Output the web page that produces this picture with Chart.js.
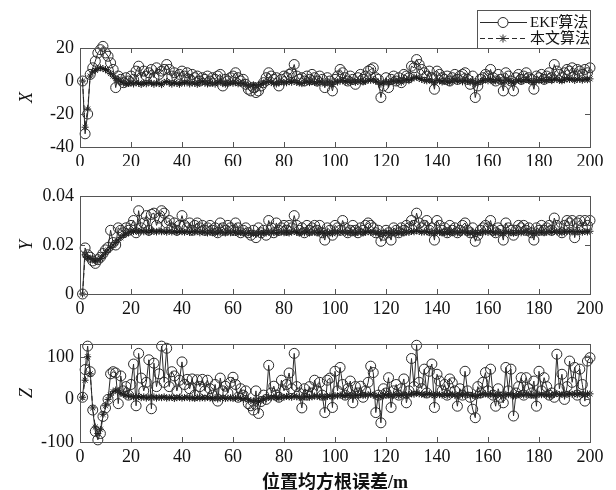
<!DOCTYPE html>
<html><head><meta charset="utf-8">
<script src="https://cdn.jsdelivr.net/npm/chart.js@4.4.1/dist/chart.umd.min.js"></script>
<style>
html,body{margin:0;padding:0;background:#fff;width:616px;height:490px;overflow:hidden}
canvas{position:absolute;left:0}
</style></head><body>
<canvas id="c1" width="616" height="166" style="top:0px"></canvas>
<canvas id="c2" width="616" height="150" style="top:166px"></canvas>
<canvas id="c3" width="616" height="176" style="top:316px"></canvas>
<script>
// ---------- data ----------
const steps = Array.from({length: 200}, (_, i) => i + 1);
const xTicks = [0, 20, 40, 60, 80, 100, 120, 140, 160, 180, 200];
const yTicksX = [-40, -20, 0, 20];
const yTicksY = [0, 0.02, 0.04];
const yTicksZ = [-100, 0, 100];
const seriesNames = ['EKF算法', '本文算法'];
const axisNames = ['X', 'Y', 'Z'];
const xAxisTitle = '位置均方根误差/m';

const ekfX = [
 0,-32,-20,4,8,12,17,19,21,17,
 15,11,7,-4,3,1,-1,2,0,3,
 1,6,9,2,6,3,5,7,2,8,
 4,6,7,10,7,3,5,2,4,6,
 3,5,1,4,2,3,0,2,1,3,
 0,2,1,3,4,-3,1,0,2,3,
 5,2,0,1,-2,-5,-6,-4,-7,-6,
 -3,-1,2,5,3,1,2,-3,1,3,
 2,4,5,10,3,1,2,0,3,1,
 4,2,0,3,1,-4,2,0,-6,1,
 3,7,5,2,0,3,1,-2,2,4,
 1,3,6,7,8,2,1,-10,-3,2,
 -4,1,3,0,2,-1,4,3,2,9,
 8,13,10,7,5,3,6,2,-5,6,
 4,2,1,3,0,2,4,1,3,4,
 5,1,-2,3,-10,-3,1,2,4,3,
 7,2,0,4,1,-6,5,3,0,-6,
 2,4,1,3,5,2,1,-5,3,2,
 4,1,3,5,2,10,6,4,2,5,
 7,6,8,3,7,6,4,7,5,8];
const oursX = [
 0,-28,-17,3,5.5,6.5,7.5,8,7.5,7,
 6,4.5,3,1.5,0.5,-0.5,-1.2,-1.8,-1.5,-1.2,
 -1.8,-0.8,-1.4,-2.1,-1.0,-1.7,-0.9,-1.3,-2.0,-1.1,
 -1.5,-2.2,-0.8,-0.3,-1.2,-1.9,-1.0,-1.4,-2.0,-0.9,
 -1.3,-0.5,-1.8,-1.1,-1.4,-2.0,-0.9,-0.4,-1.2,-1.8,
 -1.0,-1.3,-1.9,-0.8,-0.5,-1.6,-1.9,-1.1,-1.0,-1.4,
 -0.8,-1.7,-1.2,-1.5,-2.1,-2.4,-2.9,-2.3,-3.0,-2.5,
 -1.9,-1.2,-0.9,-0.2,-1.0,-1.3,-1.8,-1.1,-0.4,-0.9,
 -1.1,-0.3,-0.8,0.2,-0.9,-1.2,-1.6,-0.7,-0.2,-1.0,
 -0.4,-0.9,-1.3,-0.3,-0.8,-1.8,-0.6,-1.1,-1.9,-0.2,
 -0.7,0.1,0.3,-0.6,-0.1,-0.9,0.2,-0.8,-0.3,0.1,
 -0.6,-0.2,0.6,0.4,0.8,-0.1,-0.7,-1.9,-1.2,-0.3,
 -1.0,-0.4,0.1,-0.6,0.2,-0.8,0.3,0.9,0.2,1.3,
 2.0,2.4,1.5,1.0,0.4,0.1,0.8,-0.2,-1.1,0.3,
 0.2,-0.6,0.1,-0.3,-0.9,0.1,0.7,-0.2,0.3,-0.5,
 0.4,-0.1,-0.8,0.2,-1.8,-1.0,-0.2,0.3,0.8,0.1,
 0.9,-0.4,0.1,0.5,0.2,-1.1,0.6,0.2,-0.6,-1.0,
 0.1,0.4,-0.3,0.2,0.9,0.3,-0.1,-0.9,0.4,0.2,
 0.7,0.1,0.3,0.9,0.2,1.3,1.0,0.4,0.1,0.8,
 1.2,0.9,1.4,0.3,1.1,1.0,0.5,1.2,0.8,1.3];

const ekfY = [
 0,.0188,.016,.015,.0135,.0125,.014,.015,.0165,.018,
 .019,.026,.021,.020,.027,.026,.025,.027,.026,.028,
 .030,.025,.034,.027,.029,.032,.026,.0325,.033,.028,
 .031,.034,.033,.029,.030,.027,.029,.026,.028,.032,
 .028,.027,.029,.026,.028,.029,.027,.028,.026,.027,
 .028,.026,.027,.025,.029,.027,.026,.028,.027,.026,
 .029,.027,.025,.026,.027,.025,.024,.026,.023,.027,
 .025,.026,.024,.030,.027,.025,.029,.026,.027,.028,
 .026,.028,.027,.032,.028,.026,.027,.025,.028,.026,
 .027,.028,.026,.028,.025,.022,.027,.026,.024,.028,
 .027,.026,.030,.027,.025,.026,.028,.026,.025,.027,
 .026,.028,.029,.028,.027,.025,.026,.0215,.024,.026,
 .025,.022,.027,.026,.025,.027,.026,.028,.027,.030,
 .028,.033,.029,.027,.028,.030,.026,.027,.022,.030,
 .028,.026,.027,.025,.028,.026,.027,.025,.026,.028,
 .029,.026,.025,.027,.0215,.024,.026,.027,.028,.027,
 .030,.026,.025,.027,.026,.022,.029,.027,.026,.024,
 .026,.028,.027,.028,.026,.027,.025,.022,.027,.026,
 .028,.026,.027,.028,.026,.031,.028,.027,.025,.028,
 .030,.029,.030,.023,.029,.030,.027,.030,.028,.030];
const oursY = [
 0,.016,.015,.0145,.014,.0135,.0138,.0145,.0155,.017,
 .018,.019,.020,.021,.022,.023,.024,.0245,.025,.0255,
 .0255,.0258,.0252,.026,.0254,.0257,.0251,.0259,.0255,.0253,
 .0258,.0254,.0256,.0252,.0257,.0253,.0255,.0251,.0256,.0254,
 .0252,.0255,.0251,.0254,.0253,.0256,.025,.0254,.0252,.0249,
 .0253,.025,.0252,.0248,.0254,.0251,.0249,.0253,.025,.0252,
 .0251,.0248,.0252,.0249,.0247,.025,.0246,.0248,.0245,.0249,
 .0248,.0251,.0249,.0253,.025,.0252,.0248,.0251,.0253,.025,
 .0252,.0249,.0253,.0255,.0251,.0248,.0252,.025,.0253,.0249,
 .0251,.0253,.0249,.0252,.025,.0247,.0251,.0249,.0246,.0252,
 .025,.0253,.0254,.0251,.0249,.0252,.025,.0248,.0251,.0253,
 .0249,.0252,.0254,.0251,.0253,.0249,.025,.0246,.0248,.0251,
 .0249,.0247,.0252,.025,.0248,.0251,.0249,.0253,.0251,.0255,
 .0254,.0258,.0255,.0252,.0253,.0255,.025,.0252,.0247,.0254,
 .0252,.0249,.0251,.0248,.0252,.025,.0253,.0249,.0251,.0253,
 .0254,.025,.0248,.0251,.0246,.0249,.0251,.0252,.0254,.0251,
 .0255,.025,.0249,.0252,.0251,.0247,.0254,.0252,.025,.0248,
 .0251,.0253,.025,.0252,.0254,.0251,.0249,.0247,.0252,.0251,
 .0253,.025,.0252,.0254,.0251,.0256,.0254,.0252,.025,.0253,
 .0255,.0254,.0256,.0249,.0255,.0254,.0252,.0255,.0253,.0256];

const ekfZ = [
 5,70,125,65,-25,-75,-95,-80,-40,-20,
 0,60,65,62,-10,55,20,30,10,35,
 83,-15,108,50,20,40,93,-22,85,30,
 60,125,40,120,30,65,55,20,45,88,
 35,47,25,48,10,46,30,47,20,45,
 25,10,35,-4,50,20,31,15,40,52,
 35,5,25,10,20,-10,-15,-25,20,-33,
 -5,10,0,80,15,31,10,5,45,20,
 35,62,25,108,30,15,-20,25,10,30,
 15,45,20,40,10,-31,45,50,-19,66,
 20,75,35,10,25,43,-8,30,15,31,
 5,20,40,78,63,-31,10,-55,25,15,
 51,-19,20,35,10,25,48,-8,20,96,
 30,127,40,25,71,15,66,83,-19,59,
 43,20,35,10,48,39,20,-16,25,10,
 66,20,5,-23,-43,30,15,40,63,20,
 71,10,-16,25,5,-8,75,20,71,-39,
 15,30,51,10,51,25,15,43,-16,66,
 20,51,30,10,15,5,106,25,59,0,
 30,90,40,75,10,71,35,-4,90,98];
const oursZ = [
 5,45,100,60,-20,-65,-80,-70,-35,-15,
 0,10,18,22,20,15,12,10,8,7,
 6,5,7,4,6,3,5,4,6,3,
 5,4,6,3,4,5,2,4,5,3,
 4,5,3,4,2,5,3,4,3,5,
 3,2,4,1,3,4,2,3,4,2,
 3,4,2,1,2,-1,-3,-4,-2,-5,
 -2,0,2,5,4,6,5,3,6,5,
 7,6,5,8,6,5,4,6,7,5,
 6,8,7,6,8,5,7,8,6,9,
 8,10,9,8,10,9,8,10,9,11,
 9,10,11,12,10,8,9,6,9,10,
 11,8,10,11,9,10,12,9,11,13,
 12,15,13,12,11,12,13,11,9,12,
 11,10,12,9,11,12,10,8,11,10,
 12,11,9,10,7,9,11,12,13,11,
 13,10,9,11,10,8,12,11,12,8,
 10,11,12,10,12,11,10,9,10,12,
 11,12,10,11,10,12,14,11,12,10,
 12,13,12,13,11,13,12,10,13,13];

// ---------- styling ----------
const SERIF = '"Liberation Serif", "Noto Sans CJK SC", serif';
const INK = '#2a2a2a';
const BOX = '#555';

const boxPlugin = {
  id: 'matlabBox',
  afterDraw(chart) {
    const {ctx, chartArea: a, scales: {x, y}} = chart;
    ctx.save();
    ctx.strokeStyle = BOX;
    ctx.lineWidth = 1;
    ctx.strokeRect(Math.round(a.left) + 0.5, Math.round(a.top) + 0.5,
                   Math.round(a.right - a.left), Math.round(a.bottom - a.top));
    ctx.beginPath();
    x.ticks.forEach(t => {
      const px = Math.round(x.getPixelForValue(t.value)) + 0.5;
      ctx.moveTo(px, a.bottom); ctx.lineTo(px, a.bottom - 5);
      ctx.moveTo(px, a.top); ctx.lineTo(px, a.top + 5);
    });
    y.ticks.forEach(t => {
      const py = Math.round(y.getPixelForValue(t.value)) + 0.5;
      ctx.moveTo(a.left, py); ctx.lineTo(a.left + 5, py);
      ctx.moveTo(a.right, py); ctx.lineTo(a.right - 5, py);
    });
    ctx.stroke();
    ctx.restore();
  }
};

const legendPlugin = {
  id: 'boxLegend',
  afterDraw(chart) {
    const ctx = chart.ctx;
    const a = chart.chartArea;
    const L = 477, R = Math.round(a.right), T = 10, B = Math.round(a.top);
    ctx.save();
    ctx.fillStyle = '#fff';
    ctx.fillRect(L, T, R - L, B - T);
    ctx.strokeStyle = BOX; ctx.lineWidth = 1;
    ctx.strokeRect(L + 0.5, T + 0.5, R - L, B - T);
    const rows = [T + 12, T + 28];
    ctx.strokeStyle = INK;
    // entry 1: solid line + circle
    ctx.beginPath(); ctx.moveTo(480, rows[0] + 0.5); ctx.lineTo(527, rows[0] + 0.5); ctx.stroke();
    ctx.fillStyle = '#fff';
    ctx.beginPath(); ctx.arc(503, rows[0] + 0.5, 5, 0, Math.PI * 2); ctx.fill(); ctx.stroke();
    // entry 2: dashed line + asterisk
    ctx.setLineDash([5, 3]);
    ctx.beginPath(); ctx.moveTo(480, rows[1] + 0.5); ctx.lineTo(527, rows[1] + 0.5); ctx.stroke();
    ctx.setLineDash([]);
    const r = 4, cx = 503, cy = rows[1] + 0.5;
    ctx.beginPath();
    for (let k = 0; k < 4; k++) {
      const ang = k * Math.PI / 4;
      ctx.moveTo(cx - r * Math.cos(ang), cy - r * Math.sin(ang));
      ctx.lineTo(cx + r * Math.cos(ang), cy + r * Math.sin(ang));
    }
    ctx.stroke();
    ctx.fillStyle = '#111';
    ctx.font = '15px ' + SERIF;
    ctx.textBaseline = 'middle';
    ctx.textAlign = 'left';
    ctx.fillText(seriesNames[0], 530, rows[0] + 1);
    ctx.fillText(seriesNames[1], 530, rows[1] + 1);
    ctx.restore();
  }
};

function makeChart(id, o) {
  const datasets = [
    {
      label: seriesNames[0],
      data: o.ekf.map((v, i) => ({x: steps[i], y: v})),
      borderColor: INK, borderWidth: 1,
      pointStyle: 'circle', pointRadius: 5,
      pointBorderColor: INK, pointBackgroundColor: 'rgba(0,0,0,0)', pointBorderWidth: 1,
      fill: false, tension: 0, clip: false
    },
    {
      label: seriesNames[1],
      data: o.ours.map((v, i) => ({x: steps[i], y: v})),
      borderColor: '#1a1a1a', borderWidth: 1, borderDash: [5, 3],
      pointStyle: 'star', pointRadius: 3.5,
      pointBorderColor: '#1a1a1a', pointBorderWidth: 1,
      fill: false, tension: 0, clip: false
    }
  ];
  const tickFont = {family: SERIF, size: 18};
  return new Chart(document.getElementById(id), {
    type: 'line',
    data: {datasets},
    plugins: o.legend ? [boxPlugin, legendPlugin] : [boxPlugin],
    options: {
      responsive: false, animation: false, devicePixelRatio: 1,
      layout: {padding: {top: o.padTop, right: 26, left: 0, bottom: 0}},
      plugins: {legend: {display: false}, tooltip: {enabled: false}},
      scales: {
        x: {
          type: 'linear', min: 0, max: 200,
          afterBuildTicks: s => { s.ticks = xTicks.map(v => ({value: v})); },
          afterFit: s => { s.height = o.canvasH - o.plotBottom; },
          grid: {display: false, drawTicks: false},
          border: {display: false},
          ticks: {font: tickFont, color: '#111', padding: 4, maxRotation: 0, autoSkip: false},
          title: o.xTitle ? {display: true, text: o.xTitle, color: '#111',
                   font: {family: SERIF, size: 18, weight: 'bold', lineHeight: 1}, padding: {top: 0, bottom: 0}}
                 : {display: false}
        },
        y: {
          type: 'linear', min: o.yMin, max: o.yMax,
          afterBuildTicks: s => { s.ticks = o.yTicks.map(v => ({value: v})); },
          afterFit: s => { s.width = 80; },
          grid: {display: false, drawTicks: false},
          border: {display: false},
          ticks: {font: tickFont, color: '#111', padding: 6, autoSkip: false},
          title: {display: true, text: o.yTitle, color: '#111',
                  font: {family: SERIF, size: 18, style: 'italic', lineHeight: 1.2}, padding: {top: 16, bottom: 0}}
        }
      }
    }
  });
}

makeChart('c1', {ekf: ekfX, ours: oursX, yMin: -40, yMax: 20, yTicks: yTicksX, yTitle: axisNames[0],
  padTop: 48, plotBottom: 147, canvasH: 166, legend: true});
makeChart('c2', {ekf: ekfY, ours: oursY, yMin: 0, yMax: 0.04, yTicks: yTicksY, yTitle: axisNames[1],
  padTop: 30, plotBottom: 128, canvasH: 150});
makeChart('c3', {ekf: ekfZ, ours: oursZ, yMin: -100, yMax: 130, yTicks: yTicksZ, yTitle: axisNames[2],
  padTop: 28, plotBottom: 126, canvasH: 176, xTitle: xAxisTitle});
</script>
</body></html>
